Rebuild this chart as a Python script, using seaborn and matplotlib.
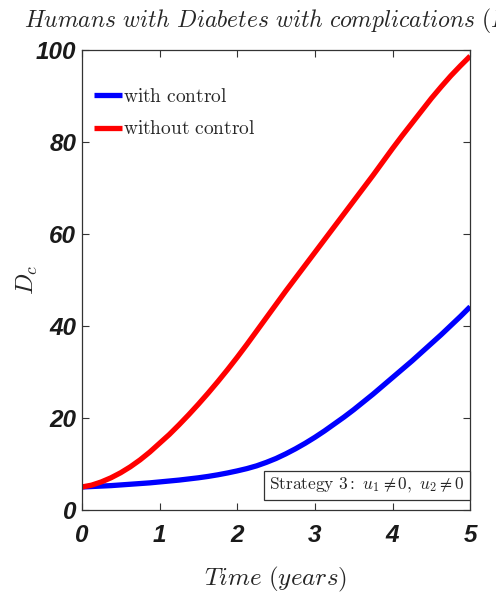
import matplotlib
matplotlib.use("Agg")
import matplotlib.pyplot as plt
import seaborn as sns
import pandas as pd

time_years = [0, 0.125, 0.25, 0.375, 0.5, 0.625, 0.75, 0.875, 1, 1.125, 1.25, 1.375,
              1.5, 1.625, 1.75, 1.875, 2, 2.125, 2.25, 2.375, 2.5, 2.625, 2.75, 2.875,
              3, 3.125, 3.25, 3.375, 3.5, 3.625, 3.75, 3.875, 4, 4.125, 4.25, 4.375,
              4.5, 4.625, 4.75, 4.875, 5]
with_control = [5.0, 5.1, 5.2, 5.3, 5.45, 5.6, 5.75, 5.9, 6.1, 6.3, 6.5, 6.75,
                7.0, 7.3, 7.65, 8.05, 8.5, 9.0, 9.6, 10.35, 11.2, 12.2, 13.3, 14.5,
                15.8, 17.2, 18.7, 20.2, 21.8, 23.5, 25.2, 27.0, 28.8, 30.6, 32.4, 34.3,
                36.2, 38.1, 40.1, 42.1, 44.2]
without_control = [5.0, 5.4, 6.1, 7.0, 8.1, 9.4, 10.9, 12.6, 14.5, 16.4, 18.5, 20.7,
                   23.0, 25.4, 27.9, 30.5, 33.2, 36.0, 38.9, 41.8, 44.7, 47.6, 50.4, 53.2,
                   56.0, 58.8, 61.6, 64.4, 67.2, 70.0, 72.8, 75.7, 78.6, 81.4, 84.1, 86.8,
                   89.5, 92.0, 94.4, 96.6, 98.7]
x_ticks = [0, 1, 2, 3, 4, 5]
y_ticks = [0, 20, 40, 60, 80, 100]

sns.set_theme(style="ticks")
plt.rcParams["font.family"] = ["Liberation Sans", "DejaVu Sans"]
plt.rcParams["mathtext.fontset"] = "cm"

fig = plt.figure(figsize=(4.96, 5.96), dpi=100)
ax = fig.add_axes([0.165, 0.1443, 0.783, 0.7717])

df = pd.DataFrame({"t": time_years, "with": with_control, "without": without_control})
sns.lineplot(data=df, x="t", y="with", ax=ax, color=(0, 0, 1), lw=3.8,
             label=r"$\mathrm{with\ control}$", solid_joinstyle="round",
             solid_capstyle="butt")
sns.lineplot(data=df, x="t", y="without", ax=ax, color=(1, 0, 0), lw=3.8,
             label=r"$\mathrm{without\ control}$", solid_joinstyle="round",
             solid_capstyle="butt")

ax.set_xlim(0, 5)
ax.set_ylim(0, 100)
ax.set_xticks(x_ticks)
ax.set_yticks(y_ticks)
ax.set_xticklabels([str(v) for v in x_ticks])
ax.set_yticklabels([str(v) for v in y_ticks])
for lab in ax.get_xticklabels() + ax.get_yticklabels():
    lab.set_fontweight("bold")
    lab.set_fontstyle("italic")
    lab.set_fontsize(17.5)
    lab.set_color("#1a1a1a")
ax.tick_params(axis="both", direction="in", length=5, width=0.8, color="#333333",
               top=True, right=True, pad=4)
ax.tick_params(axis="x", pad=10)
for sp in ax.spines.values():
    sp.set_visible(True)
    sp.set_color("#333333")
    sp.set_linewidth(0.9)

ax.set_title(r"$Humans\ with\ Diabetes\ with\ complications\ (D_c)$", fontsize=17,
             pad=16)
ax.set_xlabel(r"$Time\ (years)$", fontsize=18, labelpad=13)
ax.set_ylabel(r"$D_c$", fontsize=18, labelpad=-3)

leg = ax.legend(loc="upper left", frameon=False, fontsize=14, handlelength=1.4,
                handletextpad=0.1, borderaxespad=0.0, labelspacing=0.75,
                bbox_to_anchor=(0.012, 0.935))

ax.text(0.985, 0.032, r"$\mathrm{Strategy\ 3:}\ u_1 \neq 0,\ u_2 \neq 0$",
        transform=ax.transAxes, ha="right", va="bottom", fontsize=12.5,
        bbox=dict(boxstyle="square,pad=0.3", fc="white", ec="#333333", lw=0.9))

fig.savefig("out.png", dpi=100)
